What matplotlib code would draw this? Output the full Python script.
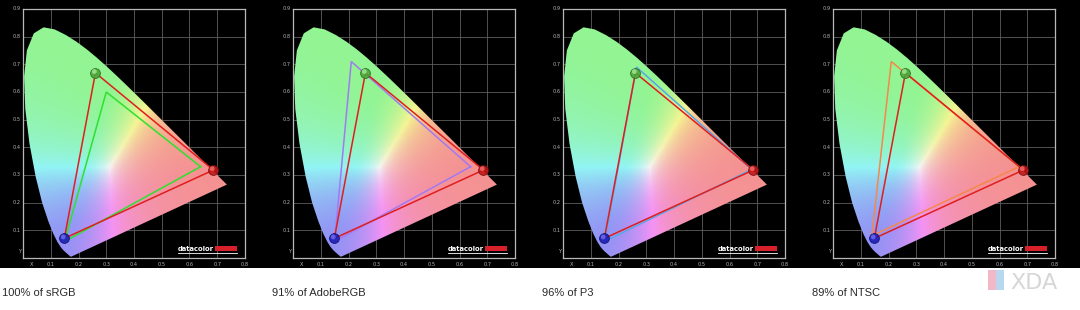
import numpy as np
import matplotlib
matplotlib.use("Agg")
import matplotlib.pyplot as plt
from matplotlib.patches import Polygon, Rectangle

# CIE 1931 spectral locus (x, y), 380-700 nm
locus_x = [0.1741, 0.1740, 0.1738, 0.1736, 0.1733, 0.1730, 0.1726, 0.1721, 0.1714, 0.1703,
           0.1689, 0.1669, 0.1644, 0.1611, 0.1566, 0.1510, 0.1440, 0.1355, 0.1241, 0.1096,
           0.0913, 0.0687, 0.0454, 0.0235, 0.0082, 0.0039, 0.0139, 0.0389, 0.0743, 0.1142,
           0.1547, 0.1929, 0.2296, 0.2658, 0.3016, 0.3373, 0.3731, 0.4087, 0.4441, 0.4788,
           0.5125, 0.5448, 0.5752, 0.6029, 0.6270, 0.6482, 0.6658, 0.6801, 0.6915, 0.7006,
           0.7079, 0.7140, 0.7190, 0.7230, 0.7260, 0.7283, 0.7300, 0.7311, 0.7320, 0.7327,
           0.7334, 0.7344, 0.7347]
locus_y = [0.0050, 0.0050, 0.0049, 0.0049, 0.0048, 0.0048, 0.0048, 0.0048, 0.0051, 0.0058,
           0.0069, 0.0086, 0.0109, 0.0138, 0.0177, 0.0227, 0.0297, 0.0399, 0.0578, 0.0868,
           0.1327, 0.2007, 0.2950, 0.4127, 0.5384, 0.6548, 0.7502, 0.8120, 0.8338, 0.8262,
           0.8059, 0.7816, 0.7543, 0.7243, 0.6923, 0.6589, 0.6245, 0.5896, 0.5547, 0.5202,
           0.4866, 0.4544, 0.4242, 0.3965, 0.3725, 0.3514, 0.3340, 0.3197, 0.3083, 0.2993,
           0.2920, 0.2859, 0.2809, 0.2770, 0.2740, 0.2717, 0.2700, 0.2689, 0.2680, 0.2673,
           0.2666, 0.2656, 0.2653]

# Measured display primaries (R, G, B)
display_x = [0.686, 0.261, 0.149]
display_y = [0.318, 0.669, 0.071]

# Reference gamuts (R, G, B)
titles = ["100% of sRGB", "91% of AdobeRGB", "96% of P3", "89% of NTSC"]
ref_x = [[0.64, 0.30, 0.15], [0.64, 0.21, 0.15], [0.68, 0.265, 0.15], [0.67, 0.21, 0.14]]
ref_y = [[0.33, 0.60, 0.06], [0.33, 0.71, 0.06], [0.32, 0.690, 0.06], [0.33, 0.71, 0.08]]
ref_colors = ["#2fe02f", "#a27af0", "#5aa6e6", "#f5884a"]

grid_vals = [0.1, 0.2, 0.3, 0.4, 0.5, 0.6, 0.7, 0.8]
xtick_labels = ["X", "0.1", "0.2", "0.3", "0.4", "0.5", "0.6", "0.7", "0.8"]
ytick_labels = ["Y", "0.1", "0.2", "0.3", "0.4", "0.5", "0.6", "0.7", "0.8", "0.9"]


def chroma_image(nx=420, ny=470, white=0.6, sharp=1.35):
    xs = np.linspace(0.0, 0.8, nx)
    ys = np.linspace(0.001, 0.9, ny)
    X, Y = np.meshgrid(xs, ys)
    Xc = X / Y
    Zc = (1 - X - Y) / Y
    M = np.array([[3.2406, -1.5372, -0.4986],
                  [-0.9689, 1.8758, 0.0415],
                  [0.0557, -0.2040, 1.0570]])
    XYZ = np.stack([Xc, np.ones_like(Xc), Zc], axis=-1)
    rgb = XYZ @ M.T
    rgb = np.clip(rgb, 0, None)
    rgb = rgb / np.maximum(rgb.max(axis=-1, keepdims=True), 1e-9)
    rgb = np.power(rgb, sharp)
    rgb = white + (1 - white) * rgb
    rgb = rgb * 0.96
    return np.clip(rgb, 0, 1)


img = chroma_image()

W, H = 1080, 310
fig = plt.figure(figsize=(W / 100, H / 100), dpi=100, facecolor="white")
# black band
fig.patches.append(Rectangle((0, (H - 268) / H), 1, 268 / H, transform=fig.transFigure,
                             facecolor="black", edgecolor="none", zorder=-5))

for i in range(4):
    left = (23 + 270 * i) / W
    ax = fig.add_axes([left, (H - 258) / H, 222 / W, 249 / H])
    ax.set_facecolor("black")
    ax.set_xlim(0, 0.8)
    ax.set_ylim(0, 0.9)
    ax.set_xticks([])
    ax.set_yticks([])
    for s in ax.spines.values():
        s.set_color("#b8b8b8")
        s.set_linewidth(0.9)
    for g in grid_vals[:-1]:
        ax.axvline(g, color="#5e5e5e", lw=0.6, zorder=1)
    for g in grid_vals:
        ax.axhline(g, color="#5e5e5e", lw=0.6, zorder=1)

    poly = Polygon(np.column_stack([locus_x, locus_y]), closed=True, facecolor="none",
                   edgecolor="none", transform=ax.transData)
    ax.add_patch(poly)
    im = ax.imshow(img, extent=[0, 0.8, 0.001, 0.9], origin="lower", interpolation="bilinear",
                   aspect="auto", zorder=2)
    im.set_clip_path(poly)

    # reference gamut
    ax.plot(ref_x[i] + [ref_x[i][0]], ref_y[i] + [ref_y[i][0]], color=ref_colors[i],
            lw=1.1, zorder=3, solid_joinstyle="miter")
    # measured display gamut
    ax.plot(display_x + [display_x[0]], display_y + [display_y[0]], color="#e01e1e",
            lw=1.1, zorder=4, solid_joinstyle="miter")

    ball_cols = ["#c41818", "#4aa838", "#1c1cb8"]
    ball_edges = ["#7a0c0c", "#2d6a22", "#10106a"]
    hl_cols = ["#f07070", "#a8e898", "#7070f0"]
    for bx, by, bc, be, hc in zip(display_x, display_y, ball_cols, ball_edges, hl_cols):
        ax.scatter([bx], [by], s=50, color=bc, edgecolor=be, linewidths=0.6, zorder=5,
                   alpha=0.9)
        ax.scatter([bx - 0.004], [by + 0.005], s=12, color=hc, edgecolor="none", zorder=6,
                   alpha=0.8)

    # tick labels
    for j, lab in enumerate(xtick_labels):
        xv = 0.03 if j == 0 else j * 0.1
        ax.text(xv, -0.014, lab, color="#b4b4b4", fontsize=3.6, ha="center", va="top",
                clip_on=False)
    for j, lab in enumerate(ytick_labels):
        yv = 0.025 if j == 0 else j * 0.1
        ax.text(-0.008, yv, lab, color="#b4b4b4", fontsize=3.6, ha="right", va="center",
                clip_on=False)

    # datacolor logo
    ax.text(0.557, 0.027, "datacolor", color="white", fontsize=4.9, fontweight="bold",
            ha="left", va="baseline", zorder=7, family="DejaVu Sans")
    ax.add_patch(Rectangle((0.693, 0.027), 0.078, 0.015, facecolor="#d8202a",
                           edgecolor="none", zorder=7))
    ax.plot([0.557, 0.771], [0.017, 0.017], color="white", lw=0.6, zorder=7)

    fig.text((2 + 270 * i) / W, (H - 295.5) / H, titles[i], fontsize=8.0,
             family="Liberation Sans", color="#2a2a2a", ha="left", va="baseline")

# XDA watermark
fig.patches.append(Rectangle((988 / W, (H - 290) / H), 8 / W, 20 / H, transform=fig.transFigure,
                             facecolor="#f2b8c8", edgecolor="none"))
fig.patches.append(Rectangle((996 / W, (H - 290) / H), 8 / W, 20 / H, transform=fig.transFigure,
                             facecolor="#b8d8f0", edgecolor="none"))
fig.text(1010 / W, (H - 289) / H, "XDA", fontsize=16, family="DejaVu Sans", color="#d6d6d6",
         ha="left", va="baseline")

fig.savefig("out.png", dpi=100, facecolor="white")
